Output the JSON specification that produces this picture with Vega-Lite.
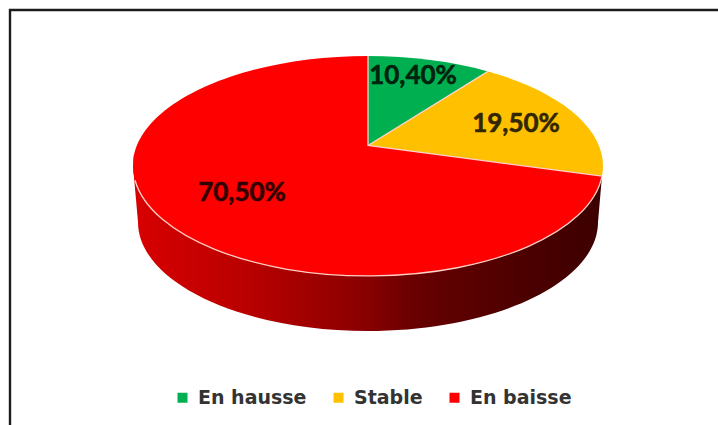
{
"$schema":"https://vega.github.io/schema/vega-lite/v6.json",
"width":718,"height":425,"padding":0,"autosize":{"type":"none"},
"background":"white",
"config":{"view":{"stroke":null}},
"data":{"values":[
{"categorie":"En hausse","part":10.4,"etiquette":"10,40%"},
{"categorie":"Stable","part":19.5,"etiquette":"19,50%"},
{"categorie":"En baisse","part":70.5,"etiquette":"70,50%"}
]},
"layer":[
{"transform":[{"filter":"datum.categorie==='En baisse'"}],
 "mark":{"type":"point","size":4,"filled":false,"fill":null,"opacity":1,"stroke":"#1c1c1c","strokeWidth":2.4,"shape":"M-349,212.5 L-349,-202.5 L359,-202.5"},"encoding":{}},
{"mark":{"type":"point","size":1,"filled":true,"opacity":1,"strokeWidth":0,"shape":"square"},
 "encoding":{
  "color":{"field":"categorie","type":"nominal",
   "scale":{"domain":["En hausse","Stable","En baisse"],"range":["#00b050","#ffc000","#ff0000"]},
   "legend":{"orient":"none","legendX":173,"legendY":388,"direction":"horizontal","title":null,"padding":0,
    "symbolType":"square","symbolSize":100,"symbolStrokeWidth":0,"labelOffset":6,"columnPadding":22,
    "labelFont":"DejaVu Sans","labelFontWeight":"bold","labelFontSize":19,"labelColor":"#333333"}}
 }},
{"transform":[{"filter":"datum.categorie==='En baisse'"}],
 "mark":{"type":"point","size":4,"filled":true,"opacity":1,"strokeWidth":0,
  "shape":"M243,-36.4 L-226,-46.5 L-221,9.5 A230,109 0 0 0 239,9.5 Z",
  "fill":{"gradient":"linear","x1":0,"y1":0,"x2":1,"y2":0,"stops":[
   {"offset":0,"color":"#d80000"},{"offset":0.25,"color":"#b80000"},{"offset":0.5,"color":"#880000"},{"offset":0.6,"color":"#680000"},{"offset":0.8,"color":"#500000"},{"offset":1,"color":"#3c0000"}]}},
 "encoding":{}},
{"transform":[{"filter":"datum.categorie==='En hausse'"}],
 "mark":{"type":"point","size":4,"filled":true,"opacity":1,"strokeWidth":0,"fill":"#00b050","shape":"M9,-67 L9,-156.5 A235,110 0 0 1 129,-141.1 Z"},"encoding":{}},
{"transform":[{"filter":"datum.categorie==='Stable'"}],
 "mark":{"type":"point","size":4,"filled":true,"opacity":1,"strokeWidth":0,"fill":"#ffc000","shape":"M9,-67 L129,-141.1 A235,110 0 0 1 243,-36.4 Z"},"encoding":{}},
{"transform":[{"filter":"datum.categorie==='En baisse'"}],
 "mark":{"type":"point","size":4,"filled":true,"opacity":1,"strokeWidth":0,"fill":"#ff0000","shape":"M9,-67 L243,-36.4 A235,110 0 1 1 9,-156.5 Z"},"encoding":{}},
{"transform":[{"filter":"datum.categorie==='En baisse'"}],
 "mark":{"type":"point","size":4,"filled":false,"fill":null,"opacity":1,"stroke":"#ffd0c8","strokeWidth":1.3,
  "shape":"M243,-36.4 A235,110 0 0 1 -224,-32.2 M9,-156.5 L9,-67 L243,-36.4 M9,-67 L129,-141.1"},"encoding":{}},
{"mark":{"type":"text","font":"Lato","fontWeight":"bold","fontSize":26,"color":"#000000","stroke":"#000000","strokeWidth":0.6,"opacity":0.8,"align":"center","baseline":"middle"},
 "encoding":{
  "text":{"field":"etiquette"},
  "x":{"field":"part","type":"quantitative","axis":null,"scale":{"domain":[10.4,19.5,70.5],"range":[413,516,242]}},
  "y":{"field":"part","type":"quantitative","axis":null,"scale":{"domain":[10.4,19.5,70.5],"range":[75.5,123.5,192.5]}}
 }}
]
}
